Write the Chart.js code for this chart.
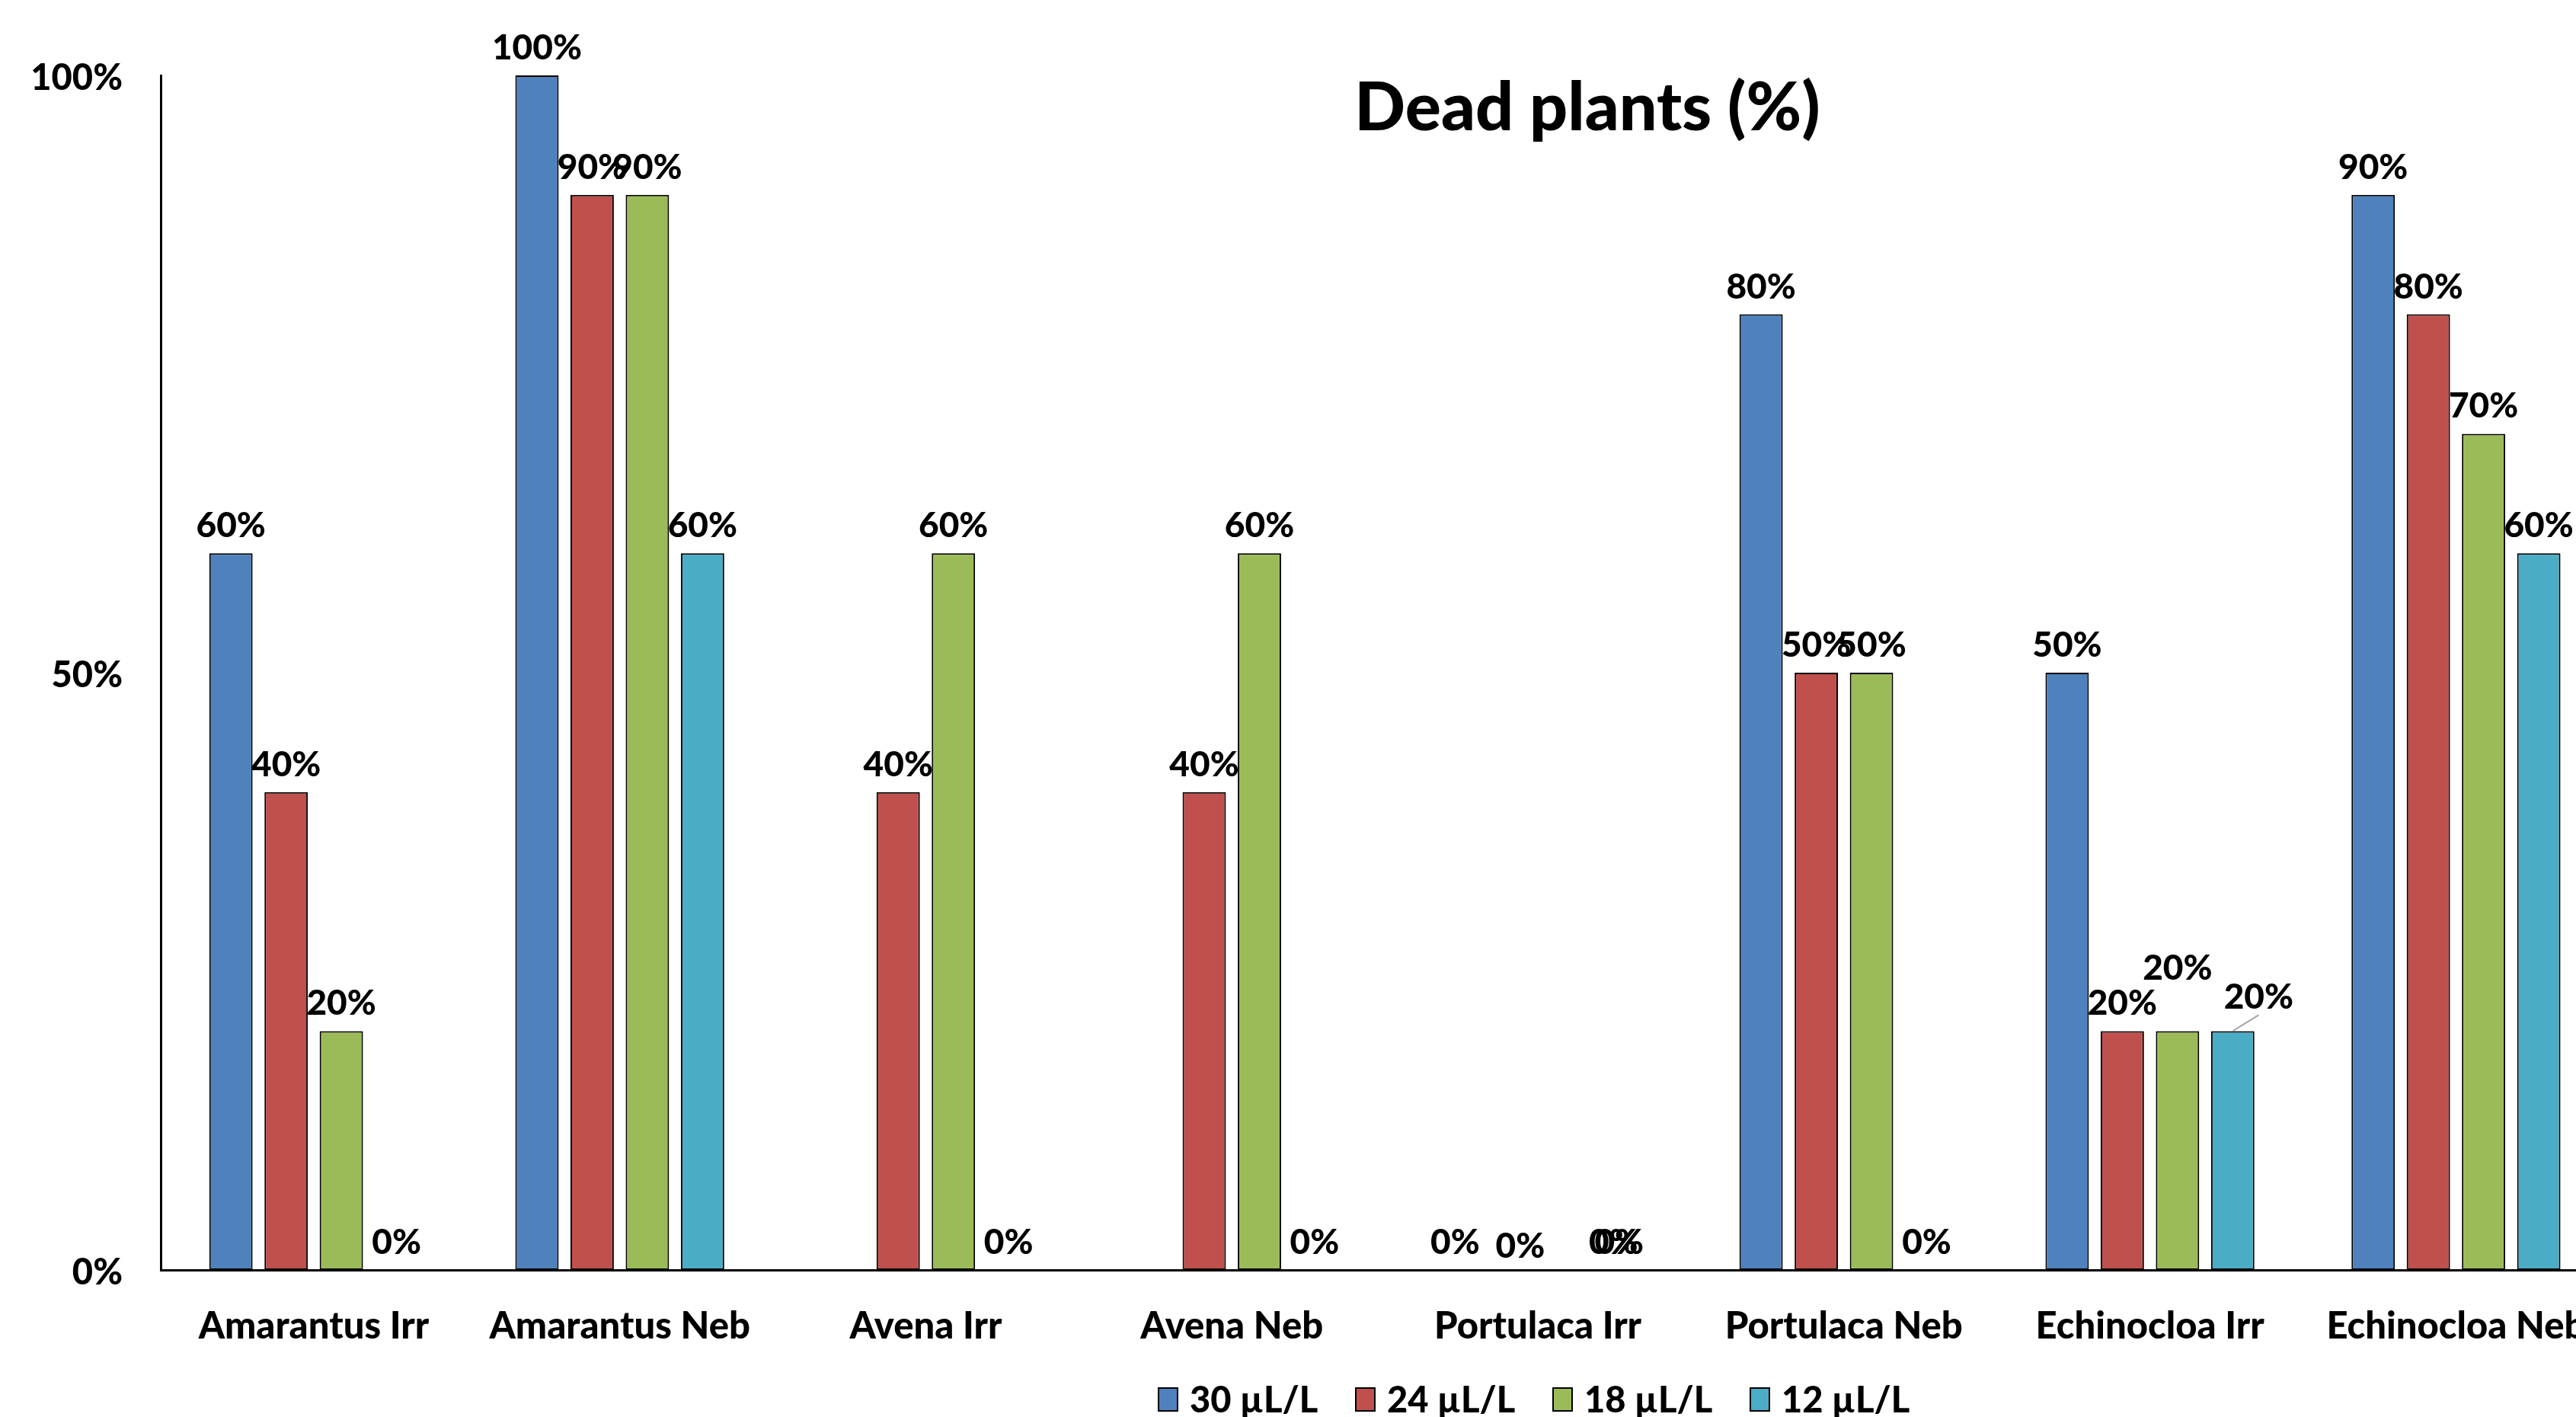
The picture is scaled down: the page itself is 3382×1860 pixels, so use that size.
<!DOCTYPE html>
<html>
<head>
<meta charset="utf-8">
<script src="https://cdn.jsdelivr.net/npm/chart.js@4.4.1/dist/chart.umd.min.js"></script>
<style>
  html, body { margin: 0; padding: 0; background: #fff; overflow: hidden; width: 3382px; height: 1860px; }
  #wrap { width: 3440px; height: 1860px; position: relative; }
  canvas { display: block; }
</style>
</head>
<body>
<div id="wrap"><canvas id="c" width="3440" height="1860"></canvas></div>
<script>
// Mortality of weed species by treatment and dose
const chartTitle = 'Dead plants (%)';
const categories = ['Amarantus Irr', 'Amarantus Neb', 'Avena Irr', 'Avena Neb',
                    'Portulaca Irr', 'Portulaca Neb', 'Echinocloa Irr', 'Echinocloa Neb'];
const seriesNames = ['30 µL/L', '24 µL/L', '18 µL/L', '12 µL/L'];
const dose30 = [60, 100, null, null, 0, 80, 50, 90];
const dose24 = [40, 90, 40, 40, 0, 50, 20, 80];
const dose18 = [20, 90, 60, 60, 0, 50, 20, 70];
const dose12 = [0, 60, 0, 0, 0, 0, 20, 60];
const yTickValues = [0, 50, 100];

const seriesColors = ['#4F81BD', '#C0504D', '#9BBB59', '#4BACC6'];
const FONT = 'Lato, "Open Sans", sans-serif';
const WEIGHT = '900';

// Hand-placed value labels that would otherwise collide: "dataset,index" -> shift in px
const labelShift = {
  '1,4': { dx: 13, dy: 5 },
  '2,4': { dx: 63, dy: 0 },
  '3,4': { dx: -2, dy: 0 },
  '2,6': { dx: 0, dy: -46 },
  '3,6': { dx: 34, dy: -8, leader: true }
};

const valueLabels = {
  id: 'valueLabels',
  afterDatasetsDraw(chart) {
    const ctx = chart.ctx;
    ctx.save();
    ctx.font = WEIGHT + ' 46px ' + FONT;
    ctx.fillStyle = '#000';
    ctx.textAlign = 'center';
    ctx.textBaseline = 'alphabetic';
    chart.data.datasets.forEach((ds, di) => {
      const meta = chart.getDatasetMeta(di);
      meta.data.forEach((bar, i) => {
        const v = ds.data[i];
        if (v === null || v === undefined) return;
        const s = labelShift[di + ',' + i] || { dx: 0, dy: 0 };
        const x = bar.x + s.dx;
        const y = bar.y - 21 + s.dy;
        if (s.leader) {
          ctx.strokeStyle = '#A6A6A6';
          ctx.lineWidth = 2;
          ctx.beginPath();
          ctx.moveTo(bar.x, bar.y);
          ctx.lineTo(x, y + 8);
          ctx.stroke();
        }
        ctx.fillText(v + '%', x, y);
      });
    });
    ctx.restore();
  }
};

const titleAndLegend = {
  id: 'titleAndLegend',
  afterDraw(chart) {
    const ctx = chart.ctx;
    ctx.save();
    // title, set inside the plot area
    ctx.font = WEIGHT + ' 88px ' + FONT;
    ctx.fillStyle = '#000';
    ctx.textAlign = 'center';
    ctx.textBaseline = 'alphabetic';
    ctx.fillText(chartTitle, 2084, 171);

    // legend row under the category labels
    ctx.font = WEIGHT + ' 47px ' + FONT;
    ctx.textAlign = 'left';
    ctx.textBaseline = 'middle';
    const startX = 1521, pitch = 259, cy = 1837;
    chart.data.datasets.forEach((ds, di) => {
      const x = startX + di * pitch;
      ctx.fillStyle = ds.backgroundColor;
      ctx.fillRect(x, cy - 15, 25, 30);
      ctx.strokeStyle = '#000';
      ctx.lineWidth = 2;
      ctx.strokeRect(x, cy - 15, 25, 30);
      ctx.fillStyle = '#000';
      ctx.fillText(ds.label, x + 41, cy + 2);
    });
    ctx.restore();
  }
};

function build() {
  const seriesValues = [dose30, dose24, dose18, dose12];
  const datasets = seriesNames.map((name, k) => ({
    label: name,
    data: seriesValues[k],
    backgroundColor: seriesColors[k],
    borderColor: '#000',
    borderWidth: (c) => (c.raw ? 2 : 0),
    borderSkipped: false,
    categoryPercentage: 0.7215,
    barPercentage: 0.785
  }));

  new Chart(document.getElementById('c'), {
    type: 'bar',
    data: { labels: categories, datasets },
    options: {
      responsive: false,
      devicePixelRatio: 1,
      animation: false,
      layout: { padding: { top: 99, left: 0, right: 9, bottom: 0 } },
      plugins: { legend: { display: false }, tooltip: { enabled: false }, title: { display: false } },
      scales: {
        x: {
          grid: { display: false, drawTicks: false },
          border: { display: true, color: '#000', width: 3 },
          ticks: { color: '#000', font: { family: FONT, weight: WEIGHT, size: 49 }, padding: 45, maxRotation: 0, autoSkip: false },
          afterFit: (s) => { s.height = 193; }
        },
        y: {
          min: 0,
          max: 100,
          grid: { display: false, drawTicks: false },
          border: { display: true, color: '#000', width: 3 },
          afterBuildTicks: (s) => { s.ticks = yTickValues.map(v => ({ value: v })); },
          ticks: {
            color: '#000',
            font: { family: FONT, weight: WEIGHT, size: 47 },
            padding: 50,
            labelOffset: 4,
            callback: (v) => v + '%'
          },
          afterFit: (s) => { s.width = 211; }
        }
      }
    },
    plugins: [valueLabels, titleAndLegend]
  });
}

if (document.fonts && document.fonts.load) {
  Promise.all([document.fonts.load(WEIGHT + ' 49px Lato'), document.fonts.load(WEIGHT + ' 88px Lato')])
    .then(build, build);
} else {
  build();
}
</script>
</body>
</html>
